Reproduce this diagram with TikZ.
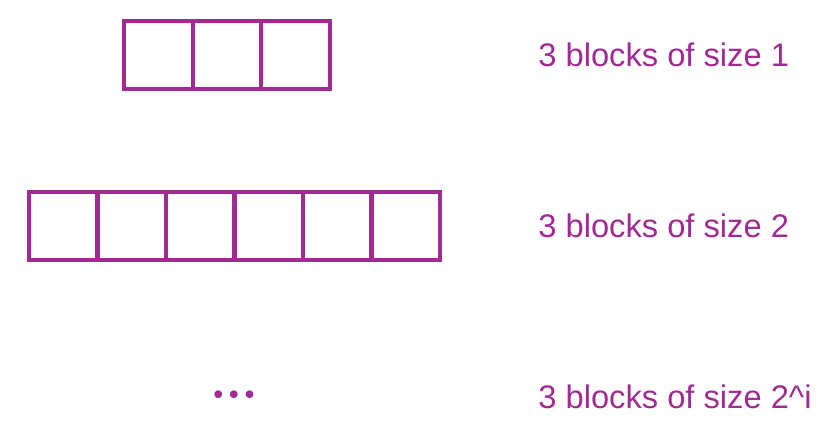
\documentclass[tikz,border=0pt]{standalone}
\usepackage{fontspec}
\setmainfont{Liberation Sans}
\newfontfamily\dotfont{DejaVu Sans}
\usepackage{xcolor}
\definecolor{Col1}{RGB}{160,43,147}
\usepackage{tikz}
\tikzstyle{Block}=[rectangle,draw=Col1,line width=2.3pt,outer sep=0pt,
minimum width=1.372cm,minimum height=1.36cm,inner sep=0pt]
\tikzstyle{Label}=[text=Col1,anchor=base west,inner sep=0pt,
font=\fontsize{18.6}{21}\selectfont]
\tikzstyle{Dots}=[text=Col1,inner sep=0pt,font=\dotfont\fontsize{15}{16}\selectfont]

\begin{document}
\begin{tikzpicture}[x=.02cm,y=-.02cm]
        \useasboundingbox(0,0)rectangle(838,446);
        \node[Block](a1)at(158.3,55){};
        \node[Block](a2)at(227.0,55){};
        \node[Block](a3)at(295.7,55){};
        \node[Block](b1)at(63.3,226){};
        \node[Block](b2)at(131.8,226){};
        \node[Block](b3)at(200.3,226){};
        \node[Block](b4)at(268.8,226){};
        \node[Block](b5)at(337.3,226){};
        \node[Block](b6)at(405.8,226){};
        \node[Dots](d)at(234,398){•\kern0pt•\kern0pt•};
        \node[Label](l1)at(538,66.5){3 blocks of size 1};
        \node[Label](l2)at(538,237.5){3 blocks of size 2};
        \node[Label](l3)at(538,408.5){3 blocks of size 2\textasciicircum i};
    \end{tikzpicture}
\end{document}
